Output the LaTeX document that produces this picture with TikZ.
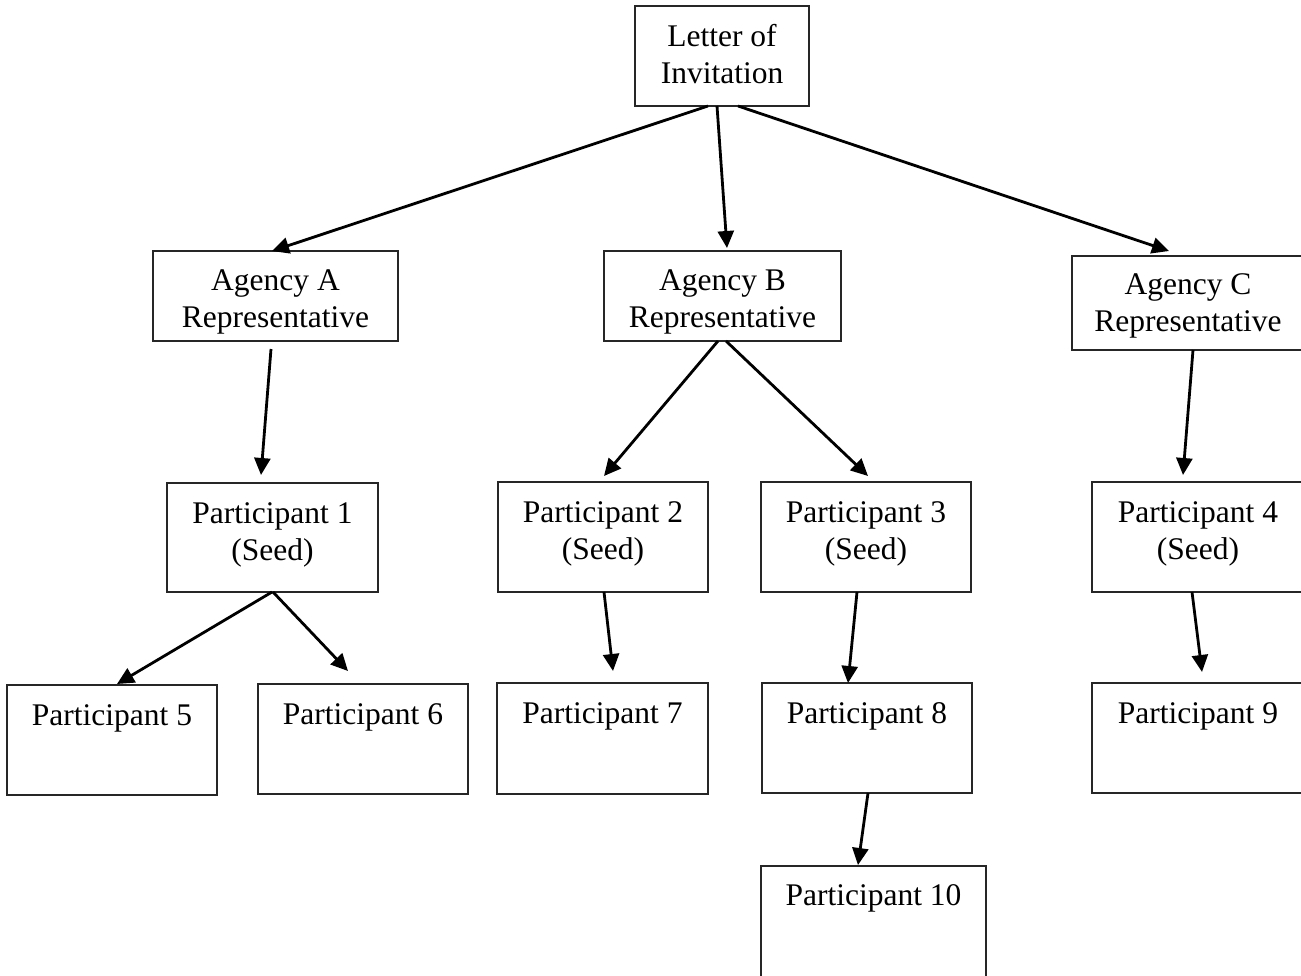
\documentclass[tikz,border=0pt]{standalone}
\usepackage{fontspec}
\setmainfont{Liberation Serif}
\usetikzlibrary{arrows.meta}
\begin{document}
\begin{tikzpicture}[x=1pt,y=-1pt,
  boxnode/.style={draw=black!85,line width=1.3pt,inner sep=0pt,outer sep=0pt,anchor=north west},
  txt/.style={inner sep=0pt,align=center,anchor=base,font=\fontsize{31.5pt}{37.5pt}\selectfont},
  arr/.style={line width=2.8pt,-{Triangle[length=17pt,width=16pt]}}]
\useasboundingbox (0,0) rectangle (1301,975);
\clip (0,0) rectangle (1301,975);
% boxes
\node[boxnode,minimum width=174pt,minimum height=100pt] (let) at (635,6) {};
\node[boxnode,minimum width=245pt,minimum height=90pt] (aA) at (153,251) {};
\node[boxnode,minimum width=237pt,minimum height=90pt] (aB) at (604,251) {};
\node[boxnode,minimum width=232pt,minimum height=94pt] (aC) at (1072,256) {};
\node[boxnode,minimum width=211pt,minimum height=109pt] (p1) at (167,483) {};
\node[boxnode,minimum width=210pt,minimum height=110pt] (p2) at (498,482) {};
\node[boxnode,minimum width=210pt,minimum height=110pt] (p3) at (761,482) {};
\node[boxnode,minimum width=212pt,minimum height=110pt] (p4) at (1092,482) {};
\node[boxnode,minimum width=210pt,minimum height=110pt] (p5) at (7,685) {};
\node[boxnode,minimum width=210pt,minimum height=110pt] (p6) at (258,684) {};
\node[boxnode,minimum width=211pt,minimum height=111pt] (p7) at (497,683) {};
\node[boxnode,minimum width=210pt,minimum height=110pt] (p8) at (762,683) {};
\node[boxnode,minimum width=212pt,minimum height=110pt] (p9) at (1092,683) {};
\node[boxnode,minimum width=225pt,minimum height=140pt] (p10) at (761,866) {};
% texts (base anchor = last line)
\node[txt] (lett) at ([yshift=-77.5pt]let.north) {Letter of\\Invitation};
\node[txt] (aAt) at ([yshift=-76.5pt]aA.north) {Agency A\\Representative};
\node[txt] (aBt) at ([yshift=-76.5pt]aB.north) {Agency B\\Representative};
\node[txt] (aCt) at ([yshift=-75.5pt]aC.north) {Agency C\\Representative};
\node[txt] (p1t) at ([yshift=-77.5pt]p1.north) {Participant 1\\(Seed)};
\node[txt] (p2t) at ([yshift=-77.5pt]p2.north) {Participant 2\\(Seed)};
\node[txt] (p3t) at ([yshift=-77.5pt]p3.north) {Participant 3\\(Seed)};
\node[txt] (p4t) at ([yshift=-77.5pt]p4.north) {Participant 4\\(Seed)};
\node[txt] (p5t) at ([yshift=-40pt]p5.north) {Participant 5};
\node[txt] (p6t) at ([yshift=-40pt]p6.north) {Participant 6};
\node[txt] (p7t) at ([yshift=-40pt]p7.north) {Participant 7};
\node[txt] (p8t) at ([yshift=-40pt]p8.north) {Participant 8};
\node[txt] (p9t) at ([yshift=-40pt]p9.north) {Participant 9};
\node[txt] (p10t) at ([yshift=-39pt]p10.north) {Participant 10};
% arrows
\draw[arr] ([xshift=-14pt]let.south) -- ([xshift=-3.5pt]aA.north);
\draw[arr] ([xshift=-5pt]let.south) -- ([xshift=4.5pt,yshift=3pt]aB.north);
\draw[arr] ([xshift=16pt]let.south) -- ([xshift=-19pt,yshift=5pt]aC.north);
\draw[arr] ([xshift=-4.5pt,yshift=-8pt]aA.south) -- ([xshift=-11.5pt,yshift=8pt]p1.north);
\draw[arr] ([xshift=-4.5pt]aB.south) -- ([xshift=1pt,yshift=6pt]p2.north);
\draw[arr] ([xshift=3.5pt]aB.south) -- ([xshift=2pt,yshift=6pt]p3.north);
\draw[arr] ([xshift=5pt]aC.south) -- ([xshift=-15pt,yshift=7pt]p4.north);
\draw[arr] ([xshift=-0.5pt]p1.south) -- ([xshift=5pt,yshift=1pt]p5.north);
\draw[arr] ([xshift=0.5pt]p1.south) -- ([xshift=-15pt,yshift=13pt]p6.north);
\draw[arr] ([xshift=1pt]p2.south) -- ([xshift=10.5pt,yshift=12pt]p7.north);
\draw[arr] ([xshift=-9pt]p3.south) -- ([xshift=-19pt]p8.north);
\draw[arr] ([xshift=-6pt]p4.south) -- ([xshift=4pt,yshift=11pt]p9.north);
\draw[arr] ([xshift=1pt]p8.south) -- ([xshift=-15.5pt,yshift=1pt]p10.north);
\end{tikzpicture}
\end{document}
